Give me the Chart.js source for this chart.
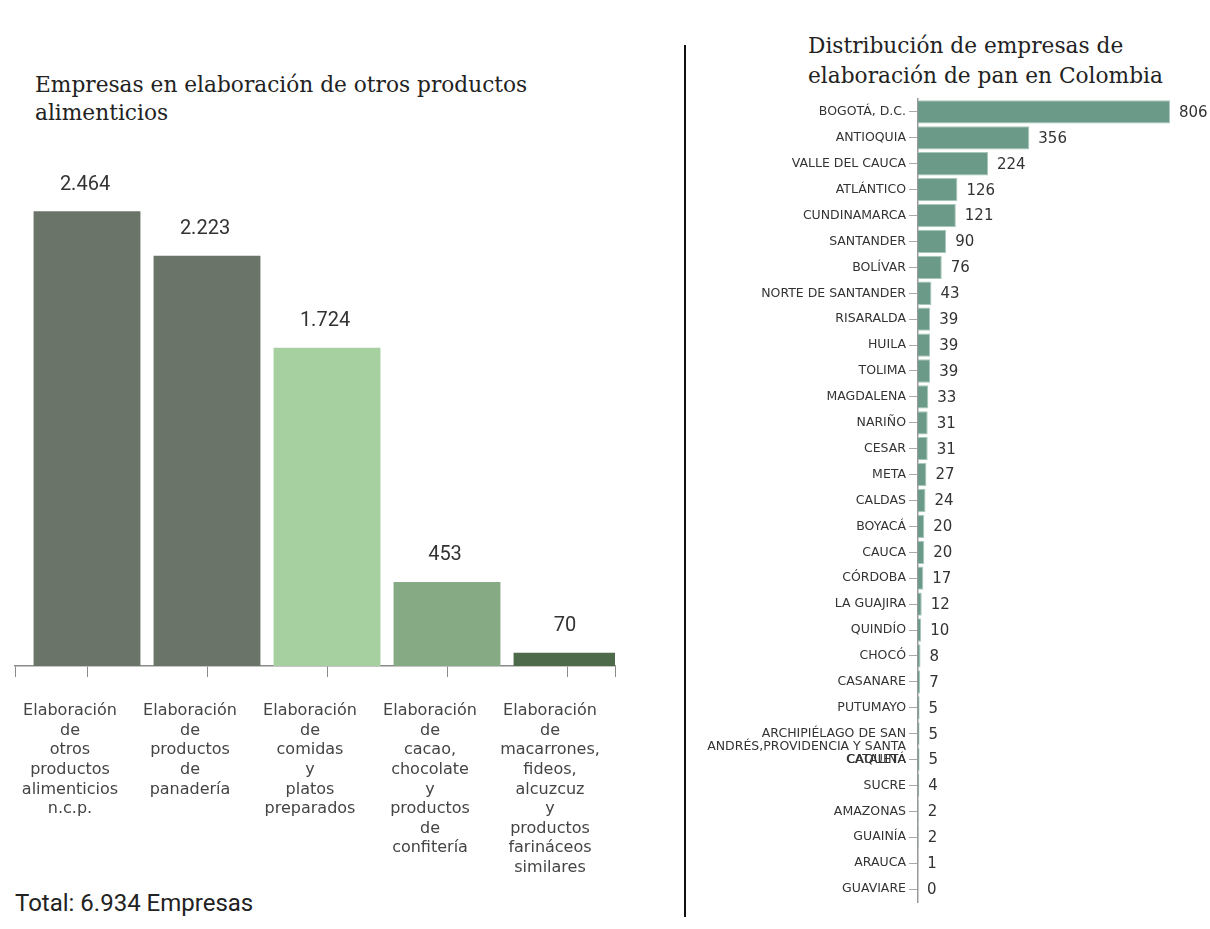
<!DOCTYPE html>
<html>
<head>
<meta charset="utf-8">
<script src="https://cdn.jsdelivr.net/npm/chart.js@4.4.0/dist/chart.umd.min.js"></script>
<style>
  body { margin: 0; background: #fff; width: 1210px; height: 929px; position: relative; overflow: hidden; }
  canvas { position: absolute; top: 0; }
  .title { position: absolute; font-family: "DejaVu Serif", serif; font-size: 21.7px; color: #222; }
  #total { position: absolute; left: 15px; top: 889px; font-family: Roboto, sans-serif; font-size: 24px; color: #222; }
  #divider { position: absolute; left: 684px; top: 45px; width: 2px; height: 872px; background: #111; }
</style>
</head>
<body>
<div class="title" style="left:35px; top:71px; line-height:28px;">Empresas en elaboración de otros productos<br>alimenticios</div>
<div class="title" style="left:808px; top:31px; line-height:30px;">Distribución de empresas de<br>elaboración de pan en Colombia</div>
<div id="divider"></div>
<div id="total">Total: 6.934 Empresas</div>
<canvas id="left" width="640" height="929" style="left:0"></canvas>
<canvas id="right" width="520" height="929" style="left:690px"></canvas>
<script>
// left chart
const productos = [
  'Elaboración de otros productos alimenticios n.c.p.',
  'Elaboración de productos de panadería',
  'Elaboración de comidas y platos preparados',
  'Elaboración de cacao, chocolate y productos de confitería',
  'Elaboración de macarrones, fideos, alcuzcuz y productos farináceos similares'
];
const empresas = [2464, 2223, 1724, 453, 70];
const coloresProductos = ['#6a7468', '#6a7468', '#a6d0a0', '#86aa84', '#4d6b4a'];

// right chart
const departamentos = [
  'BOGOTÁ, D.C.', 'ANTIOQUIA', 'VALLE DEL CAUCA', 'ATLÁNTICO', 'CUNDINAMARCA',
  'SANTANDER', 'BOLÍVAR', 'NORTE DE SANTANDER', 'RISARALDA', 'HUILA', 'TOLIMA',
  'MAGDALENA', 'NARIÑO', 'CESAR', 'META', 'CALDAS', 'BOYACÁ', 'CAUCA', 'CÓRDOBA',
  'LA GUAJIRA', 'QUINDÍO', 'CHOCÓ', 'CASANARE', 'PUTUMAYO',
  'ARCHIPIÉLAGO DE SAN ANDRÉS,PROVIDENCIA Y SANTA CATALINA', 'CAQUETÁ',
  'SUCRE', 'AMAZONAS', 'GUAINÍA', 'ARAUCA', 'GUAVIARE'
];
const panaderias = [806, 356, 224, 126, 121, 90, 76, 43, 39, 39, 39, 33, 31, 31, 27,
  24, 20, 20, 17, 12, 10, 8, 7, 5, 5, 5, 4, 2, 2, 1, 0];

function miles(v) {
  return String(v).replace(/\B(?=(\d{3})+(?!\d))/g, '.');
}

// wraps long names; empty lines in front keep the first line on the tick
function envolver(txt, max) {
  if (txt.length <= max) return txt;
  const lines = [];
  let cur = '';
  txt.split(' ').forEach(w => {
    if (cur && (cur + ' ' + w).length > max) { lines.push(cur); cur = w; }
    else cur = cur ? cur + ' ' + w : w;
  });
  lines.push(cur);
  return Array(lines.length - 1).fill('').concat(lines);
}

const etiquetasArriba = {
  id: 'etiquetasArriba',
  afterDatasetsDraw(chart) {
    const ctx = chart.ctx;
    const meta = chart.getDatasetMeta(0);
    ctx.save();
    ctx.font = '20px Roboto';
    ctx.fillStyle = '#333';
    ctx.textAlign = 'center';
    ctx.textBaseline = 'middle';
    meta.data.forEach((bar, i) => {
      ctx.fillText(miles(empresas[i]), bar.x - 2, bar.y - 27);
    });
    ctx.restore();
  }
};

const etiquetasLado = {
  id: 'etiquetasLado',
  afterDatasetsDraw(chart) {
    const ctx = chart.ctx;
    const meta = chart.getDatasetMeta(0);
    ctx.save();
    ctx.font = '15px "DejaVu Sans"';
    ctx.fillStyle = '#333';
    ctx.textAlign = 'left';
    ctx.textBaseline = 'middle';
    meta.data.forEach((bar, i) => {
      ctx.fillText(panaderias[i], bar.x + 9, bar.y + 1);
    });
    ctx.restore();
  }
};

new Chart(document.getElementById('left').getContext('2d'), {
  type: 'bar',
  data: {
    datasets: [{
      data: empresas.map((v, i) => ({ x: i, y: v })),
      backgroundColor: coloresProductos,
      barThickness: 'flex',
      categoryPercentage: 1,
      barPercentage: 0.885
    }]
  },
  options: {
    responsive: false,
    animation: false,
    events: [],
    layout: { padding: { top: 168, left: 15, right: 25, bottom: 0 } },
    plugins: { legend: { display: false }, tooltip: { enabled: false } },
    scales: {
      x: {
        type: 'linear',
        offset: false,
        min: -0.6,
        max: 4.4,
        afterBuildTicks: axis => {
          axis.ticks = [{ value: axis.min }]
            .concat(productos.map((p, i) => ({ value: i })))
            .concat([{ value: axis.max }]);
        },
        afterFit: axis => { axis.height = 263; },
        grid: { offset: false, drawOnChartArea: false, drawTicks: true, tickLength: 11, color: '#8a8a8a' },
        border: { display: true, color: '#8a8a8a', width: 1.5 },
        ticks: {
          autoSkip: false,
          maxRotation: 0,
          labelOffset: -17,
          padding: 5,
          color: '#444',
          font: { family: 'DejaVu Sans', size: 16, lineHeight: 1.22 },
          callback: v => (Number.isInteger(v) && v >= 0 && v < productos.length) ? [''].concat(productos[v].split(' ')) : ''
        }
      },
      y: { display: false, min: 0, max: 2700 }
    }
  },
  plugins: [etiquetasArriba]
});

new Chart(document.getElementById('right').getContext('2d'), {
  type: 'bar',
  data: {
    labels: departamentos,
    datasets: [{
      data: panaderias,
      backgroundColor: '#6c9a88',
      borderColor: '#a9c8bb',
      borderWidth: 1,
      categoryPercentage: 1,
      barPercentage: 0.9
    }]
  },
  options: {
    indexAxis: 'y',
    responsive: false,
    animation: false,
    events: [],
    layout: { padding: { top: 99, bottom: 27, left: 0, right: 20 } },
    plugins: { legend: { display: false }, tooltip: { enabled: false } },
    scales: {
      x: { display: false, min: 0, max: 870 },
      y: {
        afterFit: axis => { axis.width = 228; },
        grid: { offset: false, drawOnChartArea: false, tickLength: 9, color: '#aaa' },
        border: { display: true, color: '#999', width: 1.5 },
        ticks: {
          autoSkip: false,
          padding: 3,
          color: '#333',
          font: { family: 'DejaVu Sans', size: 12.5, lineHeight: 1.036 },
          callback: function (v, i) { return envolver(departamentos[i], 26); }
        }
      }
    }
  },
  plugins: [etiquetasLado]
});
</script>
</body>
</html>
